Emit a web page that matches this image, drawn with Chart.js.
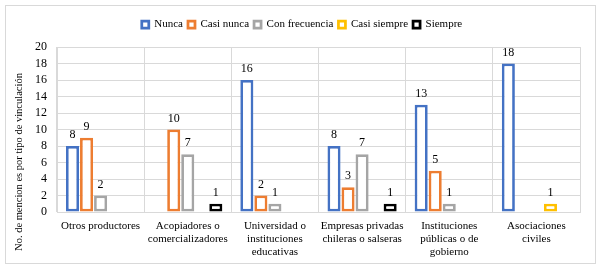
<!DOCTYPE html>
<html>
<head>
<meta charset="utf-8">
<script src="https://cdn.jsdelivr.net/npm/chart.js@4/dist/chart.umd.min.js"></script>
<style>
html,body{margin:0;padding:0;background:#fff;}
#wrap{width:604px;height:273px;}
</style>
</head>
<body>
<div id="wrap"><canvas id="c" width="604" height="273"></canvas></div>
<script>
const categories = [
  ["Otros productores"],
  ["Acopiadores o", "comercializadores"],
  ["Universidad o", "instituciones", "educativas"],
  ["Empresas privadas", "chileras o salseras"],
  ["Instituciones", "públicas o de", "gobierno"],
  ["Asociaciones", "civiles"]
];
const seriesNames = ["Nunca", "Casi nunca", "Con frecuencia", "Casi siempre", "Siempre"];
const nunca = [8, null, 16, 8, 13, 18];
const casiNunca = [9, 10, 2, 3, 5, null];
const conFrecuencia = [2, 7, 1, 7, 1, null];
const casiSiempre = [null, null, null, null, null, 1];
const siempre = [null, 1, null, 1, null, null];
const yTicks = [0, 2, 4, 6, 8, 10, 12, 14, 16, 18, 20];
const yTitle = "No. de mencion es por tipo de vinculación";

const colors = ["#4472C4", "#ED7D31", "#A5A5A5", "#FFC000", "#000000"];
const values = [nunca, casiNunca, conFrecuencia, casiSiempre, siempre];
const FONT = "'Liberation Serif', 'Times New Roman', serif";
const PAD_TOP = 14;
const PLOT_TOP = 47;

const datasets = seriesNames.map((n, i) => ({
  label: n,
  data: values[i],
  backgroundColor: "#ffffff",
  borderColor: colors[i],
  borderWidth: 2.75,
  borderSkipped: false,
  categoryPercentage: 0.805,
  barPercentage: 0.93
}));

const legendFitPlugin = {
  id: 'legendFit',
  afterInit(chart) {
    const lg = chart.legend;
    if (!lg) return;
    const orig = lg.fit;
    lg.fit = function () {
      orig.call(this);
      this.height = PLOT_TOP - PAD_TOP;
    };
  }
};

const framePlugin = {
  id: 'frame',
  afterDraw(chart) {
    const ctx = chart.ctx;
    ctx.save();
    ctx.strokeStyle = '#d9d9d9';
    ctx.lineWidth = 1;
    ctx.strokeRect(5.5, 5.5, 590, 258);
    ctx.fillStyle = '#000';
    ctx.font = '10.5px ' + FONT;
    ctx.textAlign = 'center';
    ctx.textBaseline = 'middle';
    ctx.translate(19, 162);
    ctx.rotate(-Math.PI / 2);
    ctx.fillText(yTitle, 0, 0);
    ctx.restore();
  }
};

const labelPlugin = {
  id: 'vals',
  afterDatasetsDraw(chart) {
    const ctx = chart.ctx;
    ctx.save();
    ctx.fillStyle = '#000';
    ctx.font = '12px ' + FONT;
    ctx.textAlign = 'center';
    ctx.textBaseline = 'alphabetic';
    chart.data.datasets.forEach((ds, i) => {
      const meta = chart.getDatasetMeta(i);
      meta.data.forEach((el, j) => {
        const v = ds.data[j];
        if (v === null || v === undefined) return;
        ctx.fillText(String(v), el.x, el.y - 8);
      });
    });
    ctx.restore();
  }
};

new Chart(document.getElementById('c'), {
  type: 'bar',
  data: { labels: categories, datasets: datasets },
  options: {
    responsive: false,
    animation: false,
    layout: { padding: { top: PAD_TOP, right: 0, left: 0, bottom: 0 } },
    plugins: {
      legend: {
        position: 'top',
        labels: {
          boxWidth: 7,
          boxHeight: 7,
          padding: 5,
          color: '#000',
          font: { family: FONT, size: 11 }
        }
      },
      tooltip: { enabled: false }
    },
    scales: {
      x: {
        grid: { color: '#d9d9d9', drawTicks: false, offset: true },
        border: { color: '#d9d9d9' },
        ticks: {
          color: '#000',
          font: { family: FONT, size: 11, lineHeight: 1.18 },
          padding: 8,
          maxRotation: 0,
          autoSkip: false
        },
        afterFit(s) { s.height = 61; }
      },
      y: {
        min: 0,
        max: 20,
        afterBuildTicks(s) { s.ticks = yTicks.map(v => ({ value: v })); },
        grid: { color: '#d9d9d9', drawTicks: false },
        border: { color: '#d9d9d9' },
        ticks: {
          color: '#000',
          font: { family: FONT, size: 12 },
          padding: 10,
          autoSkip: false
        },
        afterFit(s) { s.width = 57; }
      },
      yRight: {
        type: 'linear',
        position: 'right',
        display: true,
        grid: { display: false, drawTicks: false },
        border: { display: false },
        ticks: { display: false },
        afterFit(s) { s.width = 24; }
      }
    }
  },
  plugins: [legendFitPlugin, labelPlugin, framePlugin]
});
</script>
</body>
</html>
